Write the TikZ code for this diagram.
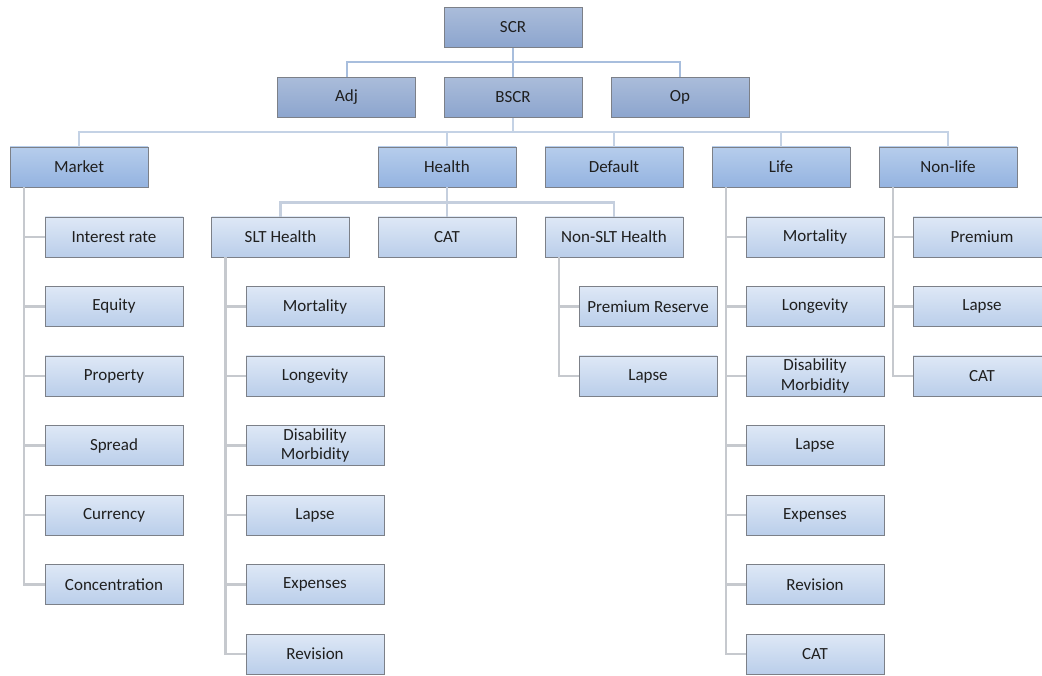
\documentclass[tikz,border=0pt]{standalone}
\usepackage{fontspec}
\setmainfont{Carlito}
\definecolor{topA}{HTML}{AABCDA}
\definecolor{topB}{HTML}{8CA5CE}
\definecolor{midA}{HTML}{B6CDEC}
\definecolor{midB}{HTML}{94B3E0}
\definecolor{leafA}{HTML}{DEE8F6}
\definecolor{leafB}{HTML}{BACEEA}
\definecolor{boxedge}{HTML}{7C8088}
\definecolor{linkA}{HTML}{A8BEDD}
\definecolor{linkB}{HTML}{C4D2E5}
\definecolor{linkC}{HTML}{C6C9CE}
\begin{document}
\begin{tikzpicture}[x=1pt,y=-1pt,
    box/.style={draw=boxedge, line width=0.9pt, minimum width=138pt, minimum height=40pt,
      inner sep=0pt, align=center, text=black!88,
      font=\fontsize{17}{19.5}\selectfont},
    topbox/.style={box, top color=topA, bottom color=topB},
    midbox/.style={box, top color=midA, bottom color=midB},
    leafbox/.style={box, top color=leafA, bottom color=leafB},
    topline/.style={draw=linkA, line width=2pt},
    bscrline/.style={draw=linkB, line width=2pt},
    sideline/.style={draw=linkC, line width=2.4pt}]

    \clip (0,0) rectangle (1042,676);

    % top levels
    \node[topbox] (scr) at (513,27.5) {SCR};
    \node[topbox] (adj) at (346.5,97.5) {Adj};
    \node[topbox] (bscr) at (513,97.5) {BSCR};
    \node[topbox] (op) at (680,97.5) {Op};

    \node[midbox] (market) at (79,167) {Market};
    \node[midbox] (health) at (447,167) {Health};
    \node[midbox] (default) at (614,167) {Default};
    \node[midbox] (life) at (781,167) {Life};
    \node[midbox] (nonlife) at (948,167) {Non-life};

    \node[leafbox] (slt) at (280.5,237) {SLT Health};
    \node[leafbox] (hcat) at (447,237) {CAT};
    \node[leafbox] (nonslt) at (614,237) {Non-SLT Health};

    % market
    \node[leafbox] (mkt1) at (114,237) {Interest rate};
    \node[leafbox] (mkt2) at (114,306.5) {Equity};
    \node[leafbox] (mkt3) at (114,376) {Property};
    \node[leafbox] (mkt4) at (114,445.5) {Spread};
    \node[leafbox] (mkt5) at (114,515) {Currency};
    \node[leafbox] (mkt6) at (114,584.5) {Concentration};

    % SLT health
    \node[leafbox] (slt1) at (315,306.5) {Mortality};
    \node[leafbox] (slt2) at (315,376) {Longevity};
    \node[leafbox] (slt3) at (315,445.5) {Disability\\Morbidity};
    \node[leafbox] (slt4) at (315,515) {Lapse};
    \node[leafbox] (slt5) at (315,584.5) {Expenses};
    \node[leafbox] (slt6) at (315,654) {Revision};

    % non-SLT health
    \node[leafbox] (nslt1) at (648,306.5) {Premium Reserve};
    \node[leafbox] (nslt2) at (648,376) {Lapse};

    % life
    \node[leafbox] (life1) at (815,237) {Mortality};
    \node[leafbox] (life2) at (815,306.5) {Longevity};
    \node[leafbox] (life3) at (815,376) {Disability\\Morbidity};
    \node[leafbox] (life4) at (815,445.5) {Lapse};
    \node[leafbox] (life5) at (815,515) {Expenses};
    \node[leafbox] (life6) at (815,584.5) {Revision};
    \node[leafbox] (life7) at (815,654) {CAT};

    % non-life
    \node[leafbox] (nl1) at (982,237) {Premium};
    \node[leafbox] (nl2) at (982,306.5) {Lapse};
    \node[leafbox] (nl3) at (982,376) {CAT};

    % links between levels
    \draw[topline] (scr.south) -- (bscr.north);
    \draw[topline] (adj.north) -- ++(0,-15) -| (op.north);
    \draw[bscrline] (bscr.south) -- ++(0,14.5);
    \draw[bscrline] (market.north) -- ++(0,-15) -| (nonlife.north);
    \draw[bscrline] (health.north) -- ++(0,-15);
    \draw[bscrline] (default.north) -- ++(0,-15);
    \draw[bscrline] (life.north) -- ++(0,-15);
    \draw[sideline, draw=linkB!70!linkC] (health.south) -- ++(0,16);
    \draw[sideline, draw=linkB!70!linkC] (slt.north) -- ++(0,-14) -| (nonslt.north);
    \draw[sideline, draw=linkB!70!linkC] (hcat.north) -- ++(0,-14);

    % side links to the leaves
    \draw[sideline] ([xshift=14.5pt]market.south west) |- (mkt1.west);
    \draw[sideline] ([xshift=14.5pt]market.south west) |- (mkt2.west);
    \draw[sideline] ([xshift=14.5pt]market.south west) |- (mkt3.west);
    \draw[sideline] ([xshift=14.5pt]market.south west) |- (mkt4.west);
    \draw[sideline] ([xshift=14.5pt]market.south west) |- (mkt5.west);
    \draw[sideline] ([xshift=14.5pt]market.south west) |- (mkt6.west);

    \draw[sideline] ([xshift=14.5pt]slt.south west) |- (slt1.west);
    \draw[sideline] ([xshift=14.5pt]slt.south west) |- (slt2.west);
    \draw[sideline] ([xshift=14.5pt]slt.south west) |- (slt3.west);
    \draw[sideline] ([xshift=14.5pt]slt.south west) |- (slt4.west);
    \draw[sideline] ([xshift=14.5pt]slt.south west) |- (slt5.west);
    \draw[sideline] ([xshift=14.5pt]slt.south west) |- (slt6.west);

    \draw[sideline] ([xshift=14.5pt]nonslt.south west) |- (nslt1.west);
    \draw[sideline] ([xshift=14.5pt]nonslt.south west) |- (nslt2.west);

    \draw[sideline] ([xshift=14.5pt]life.south west) |- (life1.west);
    \draw[sideline] ([xshift=14.5pt]life.south west) |- (life2.west);
    \draw[sideline] ([xshift=14.5pt]life.south west) |- (life3.west);
    \draw[sideline] ([xshift=14.5pt]life.south west) |- (life4.west);
    \draw[sideline] ([xshift=14.5pt]life.south west) |- (life5.west);
    \draw[sideline] ([xshift=14.5pt]life.south west) |- (life6.west);
    \draw[sideline] ([xshift=14.5pt]life.south west) |- (life7.west);

    \draw[sideline] ([xshift=14.5pt]nonlife.south west) |- (nl1.west);
    \draw[sideline] ([xshift=14.5pt]nonlife.south west) |- (nl2.west);
    \draw[sideline] ([xshift=14.5pt]nonlife.south west) |- (nl3.west);

\end{tikzpicture}
\end{document}
